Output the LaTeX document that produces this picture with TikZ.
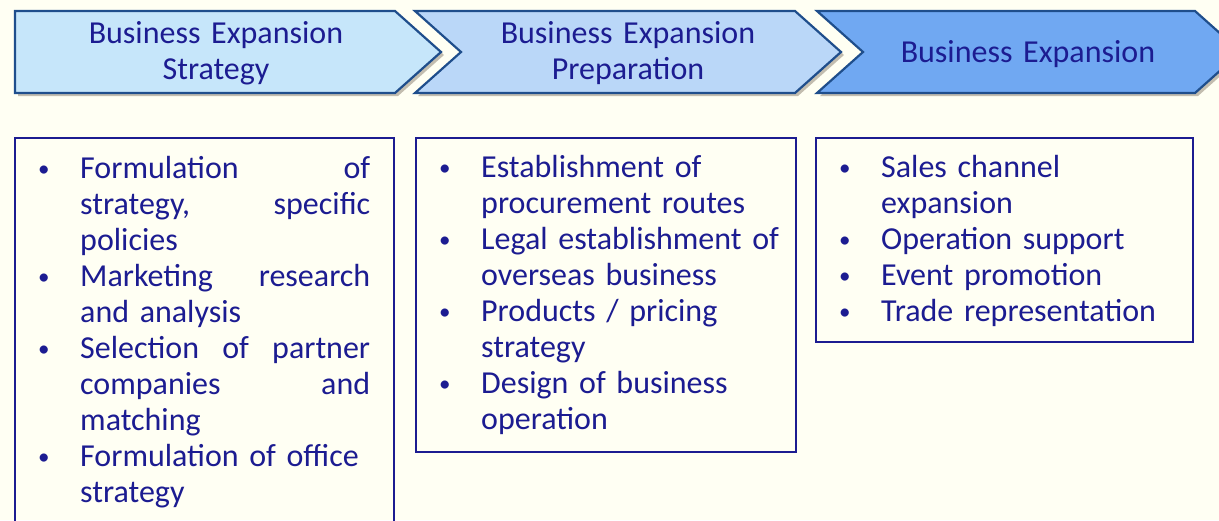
\documentclass[tikz,border=0pt]{standalone}
\usepackage{graphicx}
\usepackage{fontspec}
\setmainfont{Carlito}
\usetikzlibrary{shadows}
\definecolor{cream}{RGB}{255,255,243}
\definecolor{navy}{RGB}{28,28,145}
\definecolor{edge}{RGB}{31,78,140}
\definecolor{stepa}{RGB}{198,230,250}
\definecolor{stepb}{RGB}{186,215,248}
\definecolor{stepc}{RGB}{112,168,242}
\newcommand{\headfont}{\fontsize{32}{36.5}\selectfont\setlength{\spaceskip}{4.5pt plus 2pt}}
\newcommand{\listfont}{\fontsize{32}{36}\selectfont\setlength{\spaceskip}{4.5pt plus 2pt}}
\newcommand{\bmark}{\hspace*{1pt}\raisebox{1.5pt}{\scalebox{0.72}{\textbullet}}}
\newcommand{\bl}[1]{\makebox[43pt][l]{\bmark}#1}
\newcommand{\cl}[1]{\hspace*{43pt}#1}
\newcommand{\jl}[1]{\makebox[290pt][l]{#1}}

\begin{document}
\begin{tikzpicture}[x=1pt,y=-1pt,
  chevron/.style={draw=edge,line width=2.2pt,line join=miter,
    drop shadow={shadow xshift=3pt,shadow yshift=-3pt,opacity=0.3,fill=black!70!brown}},
  head/.style={text=navy,font=\headfont,align=center,text width=380pt,
    inner sep=0pt,anchor=base},
  listbox/.style={draw=navy,line width=2pt},
  list/.style={text=navy,font=\listfont,align=left,text width=420pt,
    inner sep=0pt,anchor=base west}]
\useasboundingbox (0,0) rectangle (1219,520);
\clip (0,0) rectangle (1219,520);
\fill [cream] (0,0) rectangle (1219,520);

\draw [chevron,fill=stepa] (15,11) -- (395,11) -- (441,52) -- (395,93) -- (15,93) -- cycle;
\draw [chevron,fill=stepb] (415,11) -- (795,11) -- (841,52) -- (795,93) -- (415,93) -- (461,52) -- cycle;
\draw [chevron,fill=stepc] (817,11) -- (1195,11) -- (1241,52) -- (1195,93) -- (817,93) -- (863,52) -- cycle;

\node [head] (strategy) at (216,43) {Business Expansion\\Strategy};
\node [head] (preparation) at (628,43) {Business Expansion\\Preparation};
\node [head] (expansion) at (1028,62) {Business Expansion};

\draw [listbox] (15,138) rectangle (394,545);
\draw [listbox] (416,138) rectangle (796,452);
\draw [listbox] (816,138) rectangle (1193,342);

\node [list] (strategylist) at (37,178) {\bl{\jl{Formulation\hfill of}}\\
  \cl{\jl{strategy,\hfill specific}}\\
  \cl{policies}\\
  \bl{\jl{Marketing\hfill research}}\\
  \cl{and analysis}\\
  \bl{\jl{Selection\hfill of\hfill partner}}\\
  \cl{\jl{companies\hfill and}}\\
  \cl{matching}\\
  \bl{Formulation of office}\\
  \cl{strategy}};
\node [list] (preparationlist) at (438,177) {\bl{Establishment of}\\
  \cl{procurement routes}\\
  \bl{Legal establishment of}\\
  \cl{overseas business}\\
  \bl{Products / pricing}\\
  \cl{strategy}\\
  \bl{Design of business}\\
  \cl{operation}};
\node [list] (expansionlist) at (838,177) {\bl{Sales channel}\\
  \cl{expansion}\\
  \bl{Operation support}\\
  \bl{Event promotion}\\
  \bl{Trade representation}};
\end{tikzpicture}
\end{document}
